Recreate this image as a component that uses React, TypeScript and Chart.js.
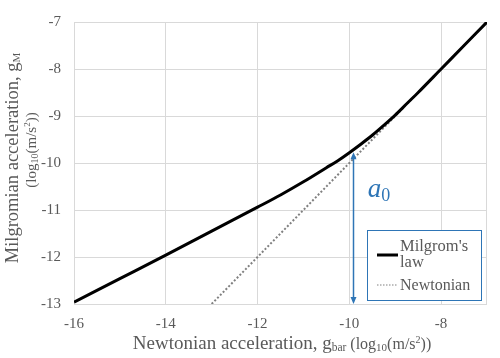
import { useEffect, useRef } from 'react';
import { Chart, registerables } from 'chart.js';
Chart.register(...registerables);

const milgromX = [-16, -15, -14, -13, -12, -11.5, -11, -10.5, -10.25, -10, -9.75, -9.5, -9.25, -9, -8.75, -8.5, -8, -7.5, -7];
const milgromY = [-12.96, -12.46, -11.96, -11.45, -10.94, -10.68, -10.4, -10.1, -9.95, -9.78, -9.6, -9.41, -9.2, -8.98, -8.74, -8.5, -8.0, -7.5, -7.0];
const newtonX = [-13, -7];
const newtonY = [-13, -7];
const xTicks = [-16, -14, -12, -10, -8];
const yTicks = [-13, -12, -11, -10, -9, -8, -7];
const a0X = -9.92;
const a0Top = -9.77;
const a0Bottom = -13;
const a0LabelX = -9.6;
const a0LabelY = -10.73;

const SERIF = '"Liberation Serif", serif';
const GRAY = '#595959';
const BLUE = '#2e75b6';

type Part = { t: string; size: number; dy?: number; italic?: boolean };

function partsWidth(ctx: CanvasRenderingContext2D, parts: Part[]) {
  let w = 0;
  for (const p of parts) {
    ctx.font = `${p.italic ? 'italic ' : ''}${p.size}px ${SERIF}`;
    w += ctx.measureText(p.t).width;
  }
  return w;
}

function drawParts(ctx: CanvasRenderingContext2D, parts: Part[], x: number, y: number, color: string) {
  ctx.fillStyle = color;
  ctx.textBaseline = 'alphabetic';
  ctx.textAlign = 'left';
  let cx = x;
  for (const p of parts) {
    ctx.font = `${p.italic ? 'italic ' : ''}${p.size}px ${SERIF}`;
    ctx.fillText(p.t, cx, y + (p.dy || 0));
    cx += ctx.measureText(p.t).width;
  }
}

const overlay = {
  id: 'overlay',
  beforeDatasetsDraw(chart: any) {
    const { ctx, chartArea: a } = chart;
    ctx.save();
    ctx.strokeStyle = '#d9d9d9';
    ctx.lineWidth = 1;
    ctx.strokeRect(a.left + 0.5, a.top + 0.5, a.right - a.left - 1, a.bottom - a.top);
    ctx.restore();
  },
  afterDraw(chart: any) {
    const { ctx } = chart;
    const xs = chart.scales.x;
    const ys = chart.scales.y;
    ctx.save();
    // a0 arrow
    const ax = Math.round(xs.getPixelForValue(a0X)) + 0.5;
    const at = ys.getPixelForValue(a0Top);
    const ab = ys.getPixelForValue(a0Bottom);
    ctx.strokeStyle = BLUE;
    ctx.fillStyle = BLUE;
    ctx.lineWidth = 1.5;
    ctx.beginPath();
    ctx.moveTo(ax, at + 4);
    ctx.lineTo(ax, ab - 4);
    ctx.stroke();
    ctx.beginPath();
    ctx.moveTo(ax, at);
    ctx.lineTo(ax - 3, at + 7);
    ctx.lineTo(ax + 3, at + 7);
    ctx.closePath();
    ctx.fill();
    ctx.beginPath();
    ctx.moveTo(ax, ab);
    ctx.lineTo(ax - 3, ab - 7);
    ctx.lineTo(ax + 3, ab - 7);
    ctx.closePath();
    ctx.fill();
    // a0 label
    drawParts(ctx, [
      { t: 'a', size: 27, italic: true },
      { t: '0', size: 18, dy: 4 },
    ], xs.getPixelForValue(a0LabelX), ys.getPixelForValue(a0LabelY), BLUE);

    // legend
    const lx = 367, ly = 230, lw = 114, lh = 70;
    ctx.fillStyle = '#ffffff';
    ctx.fillRect(lx, ly, lw, lh);
    ctx.strokeStyle = BLUE;
    ctx.lineWidth = 1;
    ctx.strokeRect(lx + 0.5, ly + 0.5, lw, lh);
    ctx.strokeStyle = '#000000';
    ctx.lineWidth = 3;
    ctx.beginPath();
    ctx.moveTo(377, 255);
    ctx.lineTo(398, 255);
    ctx.stroke();
    ctx.strokeStyle = '#808080';
    ctx.lineWidth = 1.2;
    ctx.setLineDash([1.5, 1.5]);
    ctx.beginPath();
    ctx.moveTo(377, 285);
    ctx.lineTo(398, 285);
    ctx.stroke();
    ctx.setLineDash([]);
    drawParts(ctx, [{ t: "Milgrom's", size: 16.5 }], 400, 251, GRAY);
    drawParts(ctx, [{ t: 'law', size: 16.5 }], 400, 267, GRAY);
    drawParts(ctx, [{ t: 'Newtonian', size: 16 }], 400, 290, GRAY);

    // x title
    const xt: Part[] = [
      { t: 'Newtonian acceleration, ', size: 19 },
      { t: 'g', size: 19 },
      { t: 'bar', size: 11.5, dy: 2 },
      { t: ' (log', size: 16 },
      { t: '10', size: 11, dy: 2 },
      { t: '(m/s', size: 16 },
      { t: '2', size: 10, dy: -6 },
      { t: '))', size: 16 },
    ];
    const xw = partsWidth(ctx, xt);
    drawParts(ctx, xt, 282 - xw / 2, 349, GRAY);

    // y title
    ctx.save();
    ctx.translate(18, 158);
    ctx.rotate(-Math.PI / 2);
    const yt: Part[] = [
      { t: 'Milgromian acceleration, g', size: 18.5 },
      { t: 'M', size: 11, dy: 2 },
    ];
    const yw = partsWidth(ctx, yt);
    drawParts(ctx, yt, -yw / 2, 0, GRAY);
    ctx.restore();
    ctx.save();
    ctx.translate(36, 150);
    ctx.rotate(-Math.PI / 2);
    const yt2: Part[] = [
      { t: '(log', size: 15 },
      { t: '10', size: 10, dy: 2 },
      { t: '(m/s', size: 15 },
      { t: '2', size: 9, dy: -6 },
      { t: '))', size: 15 },
    ];
    const yw2 = partsWidth(ctx, yt2);
    drawParts(ctx, yt2, -yw2 / 2, 0, GRAY);
    ctx.restore();
    ctx.restore();
  },
};

export default function App() {
  const ref = useRef<HTMLCanvasElement>(null);
  useEffect(() => {
    if (!ref.current) return;
    const chart = new Chart(ref.current, {
      type: 'line',
      data: {
        datasets: [
          {
            label: "Milgrom's law",
            data: milgromX.map((x, i) => ({ x, y: milgromY[i] })),
            borderColor: '#000000',
            borderWidth: 3,
            pointRadius: 0,
            tension: 0.4,
            cubicInterpolationMode: 'monotone',
          },
          {
            label: 'Newtonian',
            data: newtonX.map((x, i) => ({ x, y: newtonY[i] })),
            borderColor: '#808080',
            borderWidth: 2,
            borderDash: [2, 2],
            pointRadius: 0,
          },
        ],
      },
      options: {
        responsive: false,
        animation: false,
        layout: { padding: { left: 0, top: 16, right: 13, bottom: 0 } },
        plugins: { legend: { display: false }, tooltip: { enabled: false } },
        scales: {
          x: {
            type: 'linear',
            min: -16,
            max: -7,
            afterBuildTicks: (s: any) => { s.ticks = xTicks.map((v) => ({ value: v })); },
            afterFit: (s: any) => { s.height = 54; },
            grid: { color: '#d9d9d9', drawTicks: false },
            border: { display: false },
            ticks: { color: GRAY, font: { family: SERIF, size: 15 }, padding: 11, maxRotation: 0 },
          },
          y: {
            type: 'linear',
            min: -13,
            max: -7,
            afterBuildTicks: (s: any) => { s.ticks = yTicks.map((v) => ({ value: v })); },
            afterFit: (s: any) => { s.width = 74; },
            grid: { color: '#d9d9d9', drawTicks: false },
            border: { display: false },
            ticks: { color: GRAY, font: { family: SERIF, size: 15 }, padding: 13 },
          },
        },
      },
      plugins: [overlay],
    });
    return () => chart.destroy();
  }, []);
  return (
    <div style={{ position: 'absolute', left: 0, top: 0, width: 500, height: 358 }}>
      <canvas ref={ref} width={500} height={358} style={{ display: 'block' }} />
    </div>
  );
}
